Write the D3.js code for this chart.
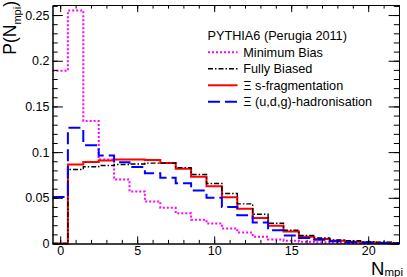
<!DOCTYPE html>
<html><head><meta charset="utf-8">
<script src="https://cdn.jsdelivr.net/npm/d3@7/dist/d3.min.js"></script>
<style>
html,body{margin:0;padding:0;background:#fff;}
svg{display:block;font-family:"Liberation Sans",Arial,Helvetica,sans-serif;}
</style></head>
<body>
<svg id="c" width="407" height="277"></svg>
<script>
// ---- data ----
const bins = d3.range(0, 23); // N_mpi bin centres 0..22
const minimumBias = [0.189, 0.255, 0.134, 0.092, 0.070, 0.057, 0.046, 0.039, 0.033, 0.026, 0.022, 0.0164, 0.012, 0.0075, 0.0045, 0.003, 0.002, 0.0013, 0.0008, 0.0005, 0.0003, 0.0002, 0.0001];
const fullyBiased = [0, 0.081, 0.084, 0.0853, 0.0864, 0.087, 0.088, 0.088, 0.083, 0.0755, 0.0656, 0.0547, 0.0434, 0.032, 0.0222, 0.0145, 0.0088, 0.006, 0.004, 0.003, 0.002, 0.0015, 0.001];
const sFragmentation = [0, 0.0864, 0.0893, 0.0908, 0.092, 0.092, 0.0915, 0.088, 0.0817, 0.073, 0.0627, 0.0507, 0.038, 0.028, 0.0195, 0.013, 0.0075, 0.005, 0.003, 0.002, 0.001, 0.0007, 0.0004];
const udgHadronisation = [0.051, 0.1266, 0.1076, 0.0963, 0.089, 0.0838, 0.077, 0.072, 0.066, 0.058, 0.050, 0.040, 0.031, 0.023, 0.0146, 0.0088, 0.006, 0.004, 0.0025, 0.0015, 0.001, 0.0005, 0.0003];
const xTickValues = [0, 5, 10, 15, 20];
const xTickLabels = ["0", "5", "10", "15", "20"];
const yTickValues = [0, 0.05, 0.1, 0.15, 0.2, 0.25];
const yTickLabels = ["0", "0.05", "0.1", "0.15", "0.2", "0.25"];
const legendTitle = "PYTHIA6 (Perugia 2011)";
const seriesNames = ["Minimum Bias", "Fully Biased", "\u039E s-fragmentation", "\u039E (u,d,g)-hadronisation"];

// ---- layout ----
const L = 52.5, R = 399, T = 5, B = 243.5;
const x = d3.scaleLinear().domain([-0.5, 22]).range([L, R]);
const y = d3.scaleLinear().domain([0, 0.261]).range([B, T]);
const svg = d3.select("#c");

const styles = [
  {data: minimumBias, color: "#ff00ff", width: 2, dash: "2,2"},
  {data: sFragmentation, color: "#ff0000", width: 2, dash: null},
  {data: fullyBiased, color: "#000000", width: 1.4, dash: "5,2,1.5,2"},
  {data: udgHadronisation, color: "#0000ff", width: 2, dash: "12,5"}
];
const legendOrder = [0, 2, 1, 3];

svg.append("clipPath").attr("id", "clip").append("rect")
  .attr("x", L).attr("y", T - 2).attr("width", R - L).attr("height", B - T + 4);

const line = d3.line().x(d => x(d[0])).y(d => y(d[1])).curve(d3.curveStepAfter);
const g = svg.append("g").attr("clip-path", "url(#clip)");
styles.forEach(s => {
  const pts = bins.map((b, i) => [b - 0.5, s.data[i]]);
  pts.push([bins[bins.length - 1] + 0.5, s.data[s.data.length - 1]]);
  const p = g.append("path").attr("d", line(pts)).attr("fill", "none")
    .attr("stroke", s.color).attr("stroke-width", s.width);
  if (s.dash) p.attr("stroke-dasharray", s.dash);
});

// ---- axes ----
const fs = "12.5px";
function styleAxis(sel) {
  sel.selectAll("path.domain").attr("stroke", "#000").attr("stroke-width", 1);
  sel.selectAll(".tick line").attr("stroke", "#000").attr("stroke-width", 1);
  sel.selectAll("text").attr("fill", "#000").style("font-size", fs)
    .style("font-family", "'Liberation Sans',Arial,sans-serif");
}
const xMinor = d3.range(0, 22.01, 1);
const yMinor = d3.range(0, 0.2605, 0.01);

// bottom
svg.append("g").attr("transform", `translate(0,${B})`)
  .call(d3.axisBottom(x).tickValues(xMinor).tickSize(-3.6).tickSizeOuter(0).tickFormat(""))
  .call(styleAxis);
svg.append("g").attr("transform", `translate(0,${B})`)
  .call(d3.axisBottom(x).tickValues(xTickValues).tickSize(-7.1).tickSizeOuter(0).tickPadding(3)
    .tickFormat((d, i) => xTickLabels[i]))
  .call(styleAxis);
// top
svg.append("g").attr("transform", `translate(0,${T})`)
  .call(d3.axisTop(x).tickValues(xMinor).tickSize(-3.6).tickSizeOuter(0).tickFormat(""))
  .call(styleAxis);
svg.append("g").attr("transform", `translate(0,${T})`)
  .call(d3.axisTop(x).tickValues(xTickValues).tickSize(-7.1).tickSizeOuter(0).tickFormat(""))
  .call(styleAxis);
// left
svg.append("g").attr("transform", `translate(${L},0)`)
  .call(d3.axisLeft(y).tickValues(yMinor).tickSize(-5.2).tickSizeOuter(0).tickFormat(""))
  .call(styleAxis);
svg.append("g").attr("transform", `translate(${L},0)`)
  .call(d3.axisLeft(y).tickValues(yTickValues).tickSize(-10.4).tickSizeOuter(0).tickPadding(3)
    .tickFormat((d, i) => yTickLabels[i]))
  .call(styleAxis);
// right
svg.append("g").attr("transform", `translate(${R},0)`)
  .call(d3.axisRight(y).tickValues(yMinor).tickSize(-5.2).tickSizeOuter(0).tickFormat(""))
  .call(styleAxis);
svg.append("g").attr("transform", `translate(${R},0)`)
  .call(d3.axisRight(y).tickValues(yTickValues).tickSize(-10.4).tickSizeOuter(0).tickFormat(""))
  .call(styleAxis);

// ---- axis titles ----
const xt = svg.append("text").attr("x", 403).attr("y", 274.5).attr("text-anchor", "end")
  .attr("fill", "#000");
xt.append("tspan").style("font-size", "18.5px").text("N");
xt.append("tspan").style("font-size", "11.5px").attr("dy", 1.5).text("mpi");

const yt = svg.append("text").attr("transform", "translate(16,1) rotate(-90)")
  .attr("text-anchor", "end").attr("fill", "#000");
yt.append("tspan").style("font-size", "17.5px").text("P(N");
yt.append("tspan").style("font-size", "11px").attr("dy", 5).text("mpi");
yt.append("tspan").style("font-size", "17.5px").attr("dy", -5).text(")");

// ---- legend ----
const lg = svg.append("g");
lg.append("text").attr("x", 207.5).attr("y", 35).attr("dy", "0.36em")
  .style("font-size", "12.7px").attr("fill", "#000").text(legendTitle);
legendOrder.forEach((si, k) => {
  const s = styles[si];
  const yy = 52.3 + k * 16.5;
  const ln = lg.append("line").attr("x1", 208).attr("x2", 237.5).attr("y1", yy).attr("y2", yy)
    .attr("stroke", s.color).attr("stroke-width", s.width);
  if (s.dash) ln.attr("stroke-dasharray", s.dash);
  lg.append("text").attr("x", 243.3).attr("y", yy).attr("dy", "0.36em")
    .style("font-size", "12.7px").attr("fill", "#000").text(seriesNames[k]);
});
</script>
</body></html>
